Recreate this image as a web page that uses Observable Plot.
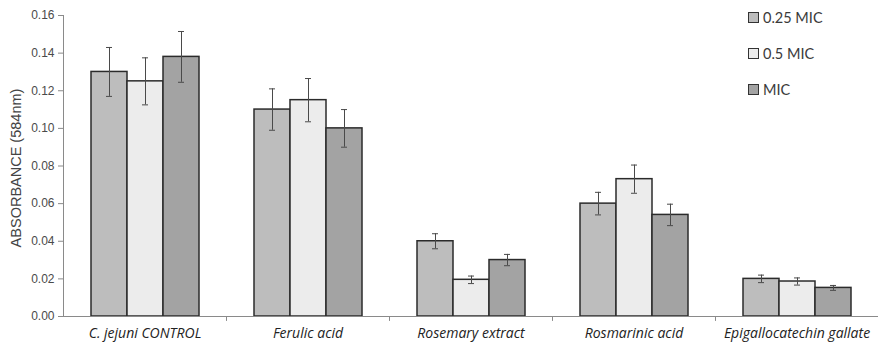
<!DOCTYPE html>
<html>
<head>
<meta charset="utf-8">
<script src="https://cdn.jsdelivr.net/npm/d3@7"></script>
<script src="https://cdn.jsdelivr.net/npm/@observablehq/plot@0.6"></script>
<style>
  html, body { margin: 0; padding: 0; background: #fff; }
  #wrap { position: relative; width: 878px; height: 345px; }
  #legend { position: absolute; left: 748px; top: 9px; font-family: Lato, "Open Sans", sans-serif; font-size: 14.5px; color: #3a3a3a; }
  #legend .item { display: flex; align-items: center; height: 17px; margin-bottom: 19px; }
  #legend .sw { width: 9px; height: 9px; border: 1.3px solid #333; margin-right: 4px; }
</style>
</head>
<body>
<div id="wrap"><div id="legend"></div></div>
<script>
const categories = ["C. jejuni CONTROL", "Ferulic acid", "Rosemary extract", "Rosmarinic acid", "Epigallocatechin gallate"];
const series = ["0.25 MIC", "0.5 MIC", "MIC"];
const values025 = [0.130, 0.110, 0.040, 0.060, 0.020];
const values05 = [0.125, 0.115, 0.0195, 0.073, 0.0186];
const valuesMIC = [0.138, 0.100, 0.030, 0.054, 0.0152];
const err025 = [0.013, 0.011, 0.004, 0.006, 0.002];
const err05 = [0.0125, 0.0115, 0.002, 0.0075, 0.0019];
const errMIC = [0.0135, 0.010, 0.003, 0.0057, 0.0013];
const yTicks = [0, 0.02, 0.04, 0.06, 0.08, 0.10, 0.12, 0.14, 0.16];
const colors = ["#bdbdbd", "#ececec", "#a3a3a3"];

const valueSets = [values025, values05, valuesMIC];
const errSets = [err025, err05, errMIC];
const data = [];
categories.forEach((c, i) => {
  series.forEach((s, j) => {
    data.push({category: c, series: s, value: valueSets[j][i], err: errSets[j][i]});
  });
});

const lineShape = {draw(context, l) { context.moveTo(0, 0); context.lineTo(0, -l); }};

const chart = Plot.plot({
  width: 878,
  height: 345,
  marginLeft: 63,
  marginRight: 0,
  marginTop: 15,
  marginBottom: 29,
  style: {fontFamily: "Liberation Sans, Arial, sans-serif", fontSize: "12px", color: "#4a4a4a", background: "#fff"},
  fx: {domain: categories, padding: 0, label: null},
  x: {domain: series, paddingInner: 0, paddingOuter: 0.733, axis: null},
  y: {domain: [0, 0.16], ticks: yTicks, tickFormat: ".2f", label: null},
  color: {domain: series, range: colors},
  marks: [
    Plot.barY(data, {fx: "category", x: "series", y: "value", fill: "series", stroke: "#2b2b2b", strokeWidth: 1.5}),
    Plot.ruleX(data, {fx: "category", x: "series", y1: d => d.value - d.err, y2: d => d.value + d.err, stroke: "#4a4a4a", strokeWidth: 1}),
    Plot.tickY(data, {fx: "category", x: "series", y: d => d.value - d.err, stroke: "#4a4a4a", strokeWidth: 1, insetLeft: 15, insetRight: 15}),
    Plot.tickY(data, {fx: "category", x: "series", y: d => d.value + d.err, stroke: "#4a4a4a", strokeWidth: 1, insetLeft: 15, insetRight: 15}),
    Plot.ruleY([0], {stroke: "#8a8a8a", strokeWidth: 1}),
    Plot.vector([0], {frameAnchor: "bottom-right", length: 4, rotate: 180, anchor: "start", shape: lineShape, stroke: "#8a8a8a", strokeWidth: 1}),
    Plot.frame({anchor: "left", facetAnchor: "left", stroke: "#8a8a8a", strokeWidth: 1}),
    Plot.axisY({ticks: yTicks, tickFormat: ".2f", tickSize: 5, tickPadding: 4, stroke: "#8a8a8a", fill: "#4a4a4a", fontSize: 12, label: null}),
    Plot.axisFx({anchor: "bottom", tickSize: 0, tickPadding: 12, fontSize: 14, fontWeight: 500, fill: "#222", fontFamily: "'Open Sans', Lato, sans-serif", fontStyle: "italic", label: null})
  ]
});

const wrap = document.getElementById("wrap");
wrap.insertBefore(chart, wrap.firstChild);

// y axis title
const svg = d3.select(chart);
svg.append("text")
  .attr("transform", "translate(17,168) rotate(-90)")
  .attr("text-anchor", "middle")
  .attr("dominant-baseline", "middle")
  .attr("font-family", "Liberation Sans, Arial, sans-serif")
  .attr("font-size", 14.5)
  .attr("fill", "#444")
  .text("ABSORBANCE (584nm)");

const legend = d3.select("#legend");
series.forEach((s, j) => {
  const it = legend.append("div").attr("class", "item");
  it.append("div").attr("class", "sw").style("background", colors[j]);
  it.append("span").text(s);
});
</script>
</body>
</html>
